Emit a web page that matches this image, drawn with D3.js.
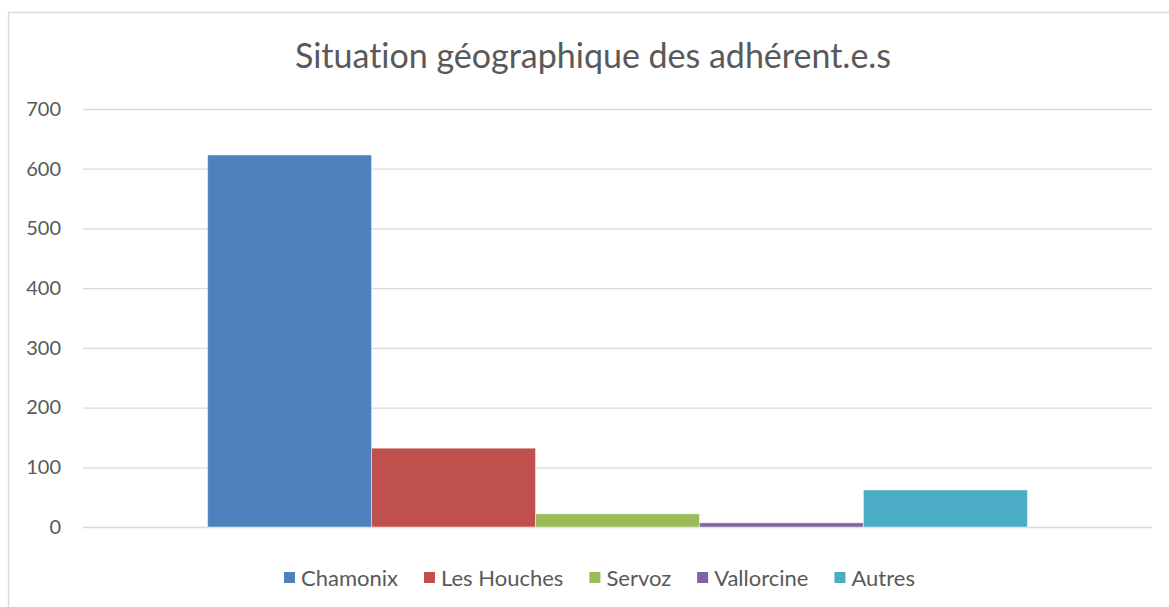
<!DOCTYPE html>
<html>
<head>
<meta charset="utf-8">
<script src="https://cdn.jsdelivr.net/npm/d3@7"></script>
<style>
    body { margin: 0; background: #ffffff; }
    text { font-family: Lato, "Open Sans", sans-serif; fill: #595959; font-variant-ligatures: none; }
</style>
</head>
<body>
<script>
    // Data
    const title = "Situation géographique des adhérent.e.s";
    const series = ["Chamonix", "Les Houches", "Servoz", "Vallorcine", "Autres"];
    const values = [623, 132, 22, 7, 62];
    const colors = ["#4F81BD", "#C0504D", "#9BBB59", "#8064A2", "#4BACC6"];
    const yTicks = [0, 100, 200, 300, 400, 500, 600, 700];

    const width = 1169;
    const height = 607;
    const margin = {left : 83, top : 109, right : 17, bottom : 80};
    const innerW = width - margin.left - margin.right;
    const innerH = height - margin.top - margin.bottom;

    const svg = d3.select("body").append("svg")
                .attr('width', width)
                .attr('height', height);

    // Chart frame
    svg.append("rect")
        .attr('x', 8.5)
        .attr('y', 12.5)
        .attr('width', width + 20)
        .attr('height', height + 20)
        .attr('fill', 'none')
        .attr('stroke', '#d9d9d9')
        .attr('stroke-width', 1.3);

    svg.append("text")
        .attr('x', 593)
        .attr('y', 68)
        .attr('font-size', '34px')
        .attr('text-anchor', 'middle')
        .text(title);

    var g = svg.append("g")
                .attr('transform', `translate(${margin.left}, ${margin.top})`);

    // Scales
    const y = d3.scaleLinear()
                .domain([0, 700])
                .range([innerH, 0]);

    const x0 = d3.scaleBand()
                .domain([""])
                .range([0, innerW])
                .paddingInner(0)
                .paddingOuter(0.152);

    const x1 = d3.scaleBand()
                .domain(series)
                .range([0, x0.bandwidth()]);

    const color = d3.scaleOrdinal().domain(series).range(colors);

    // Gridlines + labels
    const yAxis = g.append("g")
        .attr('class', 'left axis')
        .call(d3.axisLeft(y).tickValues(yTicks).tickSize(-innerW).tickPadding(22));
    yAxis.select(".domain").remove();
    yAxis.selectAll("line")
        .attr('stroke', '#d9d9d9')
        .attr('stroke-width', 1.3);
    yAxis.selectAll("text")
        .attr('font-size', '20px')
        .style('font-family', 'Lato, sans-serif')
        .style('fill', '#595959');

    // Bars
    g.append("g")
        .attr('transform', `translate(${x0("")}, 0)`)
        .selectAll("rect")
        .data(series)
        .enter().append("rect")
            .attr('x', (d) => {return x1(d)})
            .attr('y', (d, i) => {return y(values[i])})
            .attr('width', x1.bandwidth())
            .attr('height', (d, i) => {return innerH - y(values[i])})
            .attr('fill', (d) => {return color(d)})
            .attr('stroke', 'rgba(255,255,255,0.45)')
            .attr('stroke-width', 1);

    // Legend
    const legend = svg.append("g")
        .attr('transform', 'translate(284, 578)');
    let lx = 0;
    series.forEach((s) => {
        const item = legend.append("g").attr('transform', `translate(${lx}, 0)`);
        item.append("rect")
            .attr('x', 0)
            .attr('y', -6)
            .attr('width', 11)
            .attr('height', 11)
            .attr('fill', color(s));
        const t = item.append("text")
            .attr('x', 17)
            .attr('y', 7.5)
            .attr('font-size', '22px')
            .text(s);
        lx += 17 + t.node().getComputedTextLength() + 26;
    });
</script>
</body>
</html>
